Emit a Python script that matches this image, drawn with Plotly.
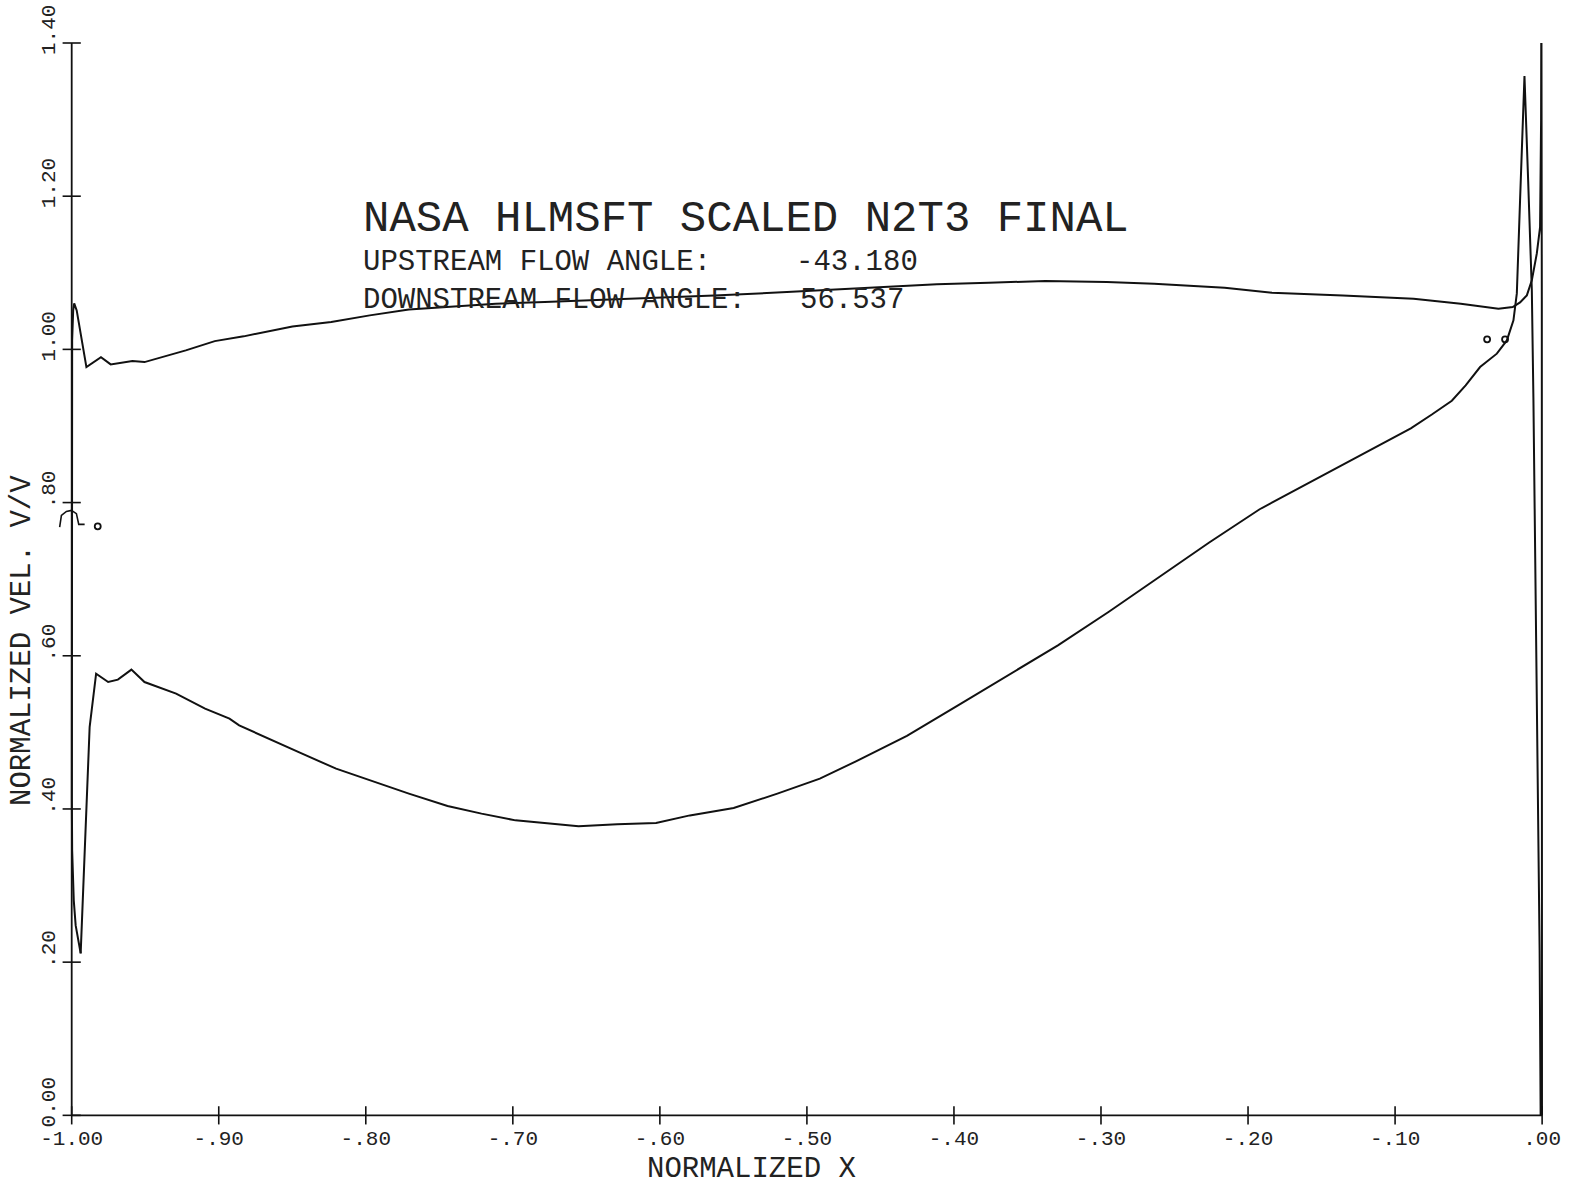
import plotly.graph_objects as go

# Blade surface velocity distribution, NASA HLMSFT scaled N2T3 final section.
# Suction surface: from the leading-edge stagnation dip, around the nose,
# along the top of the blade and into the trailing-edge spike.
suction_x = [-0.9939, -0.9973, -0.9986, -0.9997, -0.9999, -0.9999, -0.9999, -0.9999,
             -0.9999, -0.9997, -0.9990, -0.9983, -0.9966,
             -0.9900, -0.9801, -0.9735, -0.9587, -0.9505, -0.9224, -0.9027, -0.8830,
             -0.8499, -0.8235, -0.7973, -0.7707, -0.7378, -0.7116, -0.6784, -0.6456,
             -0.6124, -0.5630, -0.5136, -0.4626, -0.4116, -0.3763, -0.3378, -0.2961,
             -0.2639, -0.2159, -0.1837, -0.1356, -0.0874, -0.0553, -0.0297, -0.0200,
             -0.0150, -0.0104, -0.0070, -0.0036, -0.0014, -0.0007, -0.0005, -0.0002,
             -0.0001, -0.0001]
suction_v = [0.2115, 0.2480, 0.2807, 0.3460, 0.4112, 0.5418, 0.6723, 0.8029,
             0.9334, 1.0117, 1.0509, 1.0601, 1.0509,
             0.9769, 0.9899, 0.9804, 0.9847, 0.9834, 0.9987, 1.0108, 1.0170,
             1.0300, 1.0356, 1.0444, 1.0522, 1.0561, 1.0597, 1.0617, 1.0640,
             1.0662, 1.0705, 1.0748, 1.0796, 1.0849, 1.0871, 1.0892, 1.0879,
             1.0858, 1.0805, 1.0740, 1.0705, 1.0662, 1.0597, 1.0531, 1.0552,
             1.0614, 1.0705, 1.0901, 1.1253, 1.1597, 1.2990, 1.4817, 1.0640,
             0.5418, 0.0]

# Pressure surface: from the stagnation dip to the trailing edge.
pressure_x = [-0.9939, -0.9925, -0.9908, -0.9896, -0.9878, -0.9834, -0.9752, -0.9686,
              -0.9594, -0.9505, -0.9290, -0.9093, -0.8927, -0.8861, -0.8664, -0.8433,
              -0.8202, -0.7939, -0.7707, -0.7444, -0.7213, -0.6982, -0.6784, -0.6553,
              -0.6290, -0.6026, -0.5796, -0.5498, -0.5201, -0.4912, -0.4663, -0.4320,
              -0.3978, -0.3635, -0.3293, -0.2949, -0.2606, -0.2264, -0.1921, -0.1578,
              -0.1235, -0.0893, -0.0750, -0.0614, -0.0520, -0.0422, -0.0308, -0.0240,
              -0.0195, -0.0172, -0.0150, -0.0120, -0.0095, -0.0070, -0.0059, -0.0048,
              -0.0036, -0.0025, -0.0017, -0.0010]
pressure_v = [0.2115, 0.2807, 0.3590, 0.4112, 0.5069, 0.5766, 0.5657, 0.5688,
              0.5819, 0.5657, 0.5505, 0.5309, 0.5179, 0.5091, 0.4918, 0.4722,
              0.4526, 0.4351, 0.4200, 0.4038, 0.3939, 0.3851, 0.3816, 0.3773,
              0.3799, 0.3816, 0.3916, 0.4012, 0.4200, 0.4396, 0.4624, 0.4953,
              0.5347, 0.5742, 0.6136, 0.6571, 0.7031, 0.7479, 0.7913, 0.8268,
              0.8620, 0.8970, 0.9150, 0.9330, 0.9530, 0.9769, 0.9944, 1.0117,
              1.0379, 1.0731, 1.1945, 1.3568, 1.2206, 1.0770, 0.9334, 0.7598,
              0.5849, 0.4112, 0.2154, 0.0]

# Small plotter symbols (open circles) and the hook glyph near the leading edge
symbol_x = [-0.9823, -0.0374, -0.0252]
symbol_v = [0.769, 1.0131, 1.0131]
hook_x = [-1.0082, -1.0070, -1.0036, -1.0002, -0.9968, -0.9957, -0.9952, -0.9912]
hook_v = [0.7680, 0.7833, 0.7885, 0.7898, 0.7855, 0.7768, 0.7715, 0.7715]

# Axis ticks and labels
x_ticks = [-1.0, -0.9, -0.8, -0.7, -0.6, -0.5, -0.4, -0.3, -0.2, -0.1, 0.0]
x_labels = ["-1.00", "-.90", "-.80", "-.70", "-.60", "-.50", "-.40", "-.30",
            "-.20", "-.10", ".00"]
y_ticks = [0.0, 0.2, 0.4, 0.6, 0.8, 1.0, 1.2, 1.4]
y_labels = ["0.00", ".20", ".40", ".60", ".80", "1.00", "1.20", "1.40"]

X_MIN, X_MAX = -1.0, 0.0
Y_MIN, Y_MAX = 0.0, 1.4

assert len(suction_x) == len(suction_v)
assert len(pressure_x) == len(pressure_v)

FONT = "Liberation Mono"
INK = "#111111"
TEXT = "#222222"

fig = go.Figure()

fig.add_trace(go.Scatter(x=suction_x, y=suction_v, mode="lines",
                         line=dict(color=INK, width=2), hoverinfo="skip"))
fig.add_trace(go.Scatter(x=pressure_x, y=pressure_v, mode="lines",
                         line=dict(color=INK, width=2), hoverinfo="skip"))
fig.add_trace(go.Scatter(x=hook_x, y=hook_v, mode="lines",
                         line=dict(color=INK, width=1.6), hoverinfo="skip"))
fig.add_trace(go.Scatter(x=symbol_x, y=symbol_v, mode="markers",
                         marker=dict(symbol="circle-open", size=6, color=INK,
                                     line=dict(width=1.8, color=INK)),
                         hoverinfo="skip"))

# Tick marks crossing the axis lines
fig.add_trace(go.Scatter(x=x_ticks, y=[Y_MIN] * len(x_ticks), mode="markers",
                         marker=dict(symbol="line-ns-open", size=13, color=INK,
                                     line=dict(width=1.6, color=INK)),
                         cliponaxis=False, hoverinfo="skip"))
fig.add_trace(go.Scatter(x=[X_MIN] * len(y_ticks), y=y_ticks, mode="markers",
                         marker=dict(symbol="line-ew-open", size=13, color=INK,
                                     line=dict(width=1.6, color=INK)),
                         cliponaxis=False, hoverinfo="skip"))

# Axis lines
fig.add_shape(type="line", xref="x", yref="y", x0=X_MIN, x1=X_MAX, y0=Y_MIN, y1=Y_MIN,
              line=dict(color=INK, width=1.8))
fig.add_shape(type="line", xref="x", yref="y", x0=X_MIN, x1=X_MIN, y0=Y_MIN, y1=Y_MAX,
              line=dict(color=INK, width=1.8))

text_font = dict(family=FONT, color=TEXT)

fig.add_annotation(text="NASA HLMSFT SCALED N2T3 FINAL", xref="paper", yref="paper",
                   x=0.2039, y=0.8370, xanchor="left", yanchor="middle", showarrow=False,
                   font=dict(size=44, **text_font))
fig.add_annotation(text="UPSTREAM FLOW ANGLE:", xref="paper", yref="paper",
                   x=0.2039, y=0.7972, xanchor="left", yanchor="middle", showarrow=False,
                   font=dict(size=29, **text_font))
fig.add_annotation(text="-43.180", xref="paper", yref="paper",
                   x=0.4943, y=0.7972, xanchor="left", yanchor="middle", showarrow=False,
                   font=dict(size=29, **text_font))
fig.add_annotation(text="DOWNSTREAM FLOW ANGLE:", xref="paper", yref="paper",
                   x=0.2039, y=0.7620, xanchor="left", yanchor="middle", showarrow=False,
                   font=dict(size=29, **text_font))
fig.add_annotation(text="56.537", xref="paper", yref="paper",
                   x=0.4970, y=0.7620, xanchor="left", yanchor="middle", showarrow=False,
                   font=dict(size=29, **text_font))
fig.add_annotation(text="NORMALIZED X", xref="paper", yref="paper",
                   x=0.4655, y=-0.0426, xanchor="center", yanchor="middle", showarrow=False,
                   font=dict(size=29, **text_font))
fig.add_annotation(text="NORMALIZED VEL. V/V", xref="paper", yref="paper",
                   x=-0.0235, y=0.4472, xanchor="center", yanchor="middle", showarrow=False,
                   textangle=-90, font=dict(size=29, **text_font))

fig.update_layout(
    width=1580, height=1186,
    margin=dict(l=57, r=32, t=43, b=63, autoexpand=False),
    paper_bgcolor="white", plot_bgcolor="white",
    showlegend=False,
    xaxis=dict(range=[-1.01, 0.004], showgrid=False, zeroline=False, showline=False,
               automargin=False,
               tickmode="array", tickvals=x_ticks, ticktext=x_labels, ticks="",
               tickfont=dict(family=FONT, size=21, color=TEXT)),
    yaxis=dict(range=[-0.01, 1.4], showgrid=False, zeroline=False, showline=False,
               automargin=False,
               tickmode="array", tickvals=y_ticks, ticktext=y_labels, ticks="",
               tickangle=-90, ticklabelshift=-10, ticklabelstandoff=-3,
               tickfont=dict(family=FONT, size=21, color=TEXT)),
)

fig.write_html("out.html")
